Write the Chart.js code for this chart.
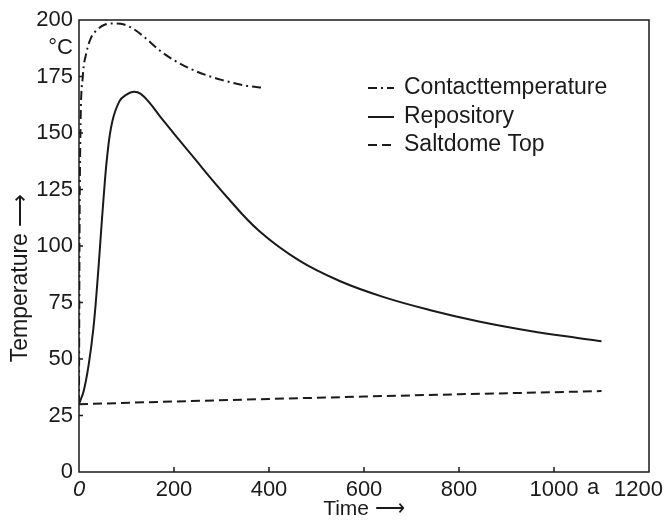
<!DOCTYPE html>
<html>
<head>
<meta charset="utf-8">
<title>Temperature vs Time</title>
<script src="https://cdn.jsdelivr.net/npm/chart.js@4/dist/chart.umd.min.js"></script>
<style>
    html, body { margin: 0; padding: 0; background: #fff; }
    #wrap { width: 664px; height: 524px; }
</style>
</head>
<body>
<div id="wrap"><canvas id="chart" width="664" height="524"></canvas></div>
<script>
// time in years (a), temperature in °C
const contactTime = [0, 1, 3, 8, 15, 25, 40, 55, 75, 95, 115, 140, 170, 210, 250, 300, 350, 390];
const contactTemp = [30, 100, 150, 175, 185, 192, 196, 198, 198.5, 198, 196, 192, 186.5, 181, 177, 173.5, 171, 170];

const repoTime = [0, 10, 20, 30, 38, 45, 52, 60, 70, 85, 100, 115, 130, 150, 170, 240, 311, 380, 464, 550, 640, 740, 842, 950, 1050, 1100];
const repoTemp = [30, 36, 47, 63, 82, 102, 122, 141, 155, 164, 167, 168.3, 167.3, 163, 157.5, 139.5, 121.8, 106.5, 93.5, 84.4, 77.5, 71.6, 66.6, 62.4, 59.3, 57.9];

const saltTime = [0, 200, 400, 600, 800, 1000, 1100];
const saltTemp = [30, 31.2, 32.3, 33.4, 34.4, 35.3, 35.8];

const seriesNames = ['Contacttemperature', 'Repository', 'Saltdome Top'];
const xTicks = [0, 200, 400, 600, 800, 1000, 1200];
const yTicks = [0, 25, 50, 75, 100, 125, 150, 175, 200];

const ink = '#1a1a1a';
const FONT = "'Liberation Sans', Arial, Helvetica, sans-serif";

const toPoints = (xs, ys) => xs.map((x, i) => ({ x: x, y: ys[i] }));

// frame, inward ticks, unit labels and the legend inside the plot
const extras = {
    id: 'extras',
    afterDraw(chart) {
        const { ctx, chartArea: a, scales: { x, y } } = chart;
        ctx.save();
        ctx.strokeStyle = ink;
        ctx.lineWidth = 1.5;
        ctx.setLineDash([]);
        ctx.strokeRect(a.left, a.top, a.right - a.left, a.bottom - a.top);

        ctx.beginPath();
        xTicks.slice(1, -1).forEach(v => {
            const px = x.getPixelForValue(v);
            ctx.moveTo(px, a.bottom);
            ctx.lineTo(px, a.bottom - 5);
        });
        yTicks.slice(1, -1).forEach(v => {
            const py = y.getPixelForValue(v);
            ctx.moveTo(a.left, py);
            ctx.lineTo(a.left + 4, py);
        });
        ctx.stroke();

        ctx.fillStyle = ink;
        ctx.font = '22px ' + FONT;
        ctx.textBaseline = 'middle';
        ctx.textAlign = 'right';
        ctx.fillText('°C', a.left - 6, y.getPixelForValue(200) + 28);
        // last x label and the unit "a"
        ctx.fillText('1200', 663, 490);
        ctx.textAlign = 'center';
        ctx.fillText('a', 593, 488);

        // legend
        ctx.font = '23px ' + FONT;
        const rows = [a.top + 68, a.top + 97, a.top + 125];
        chart.data.datasets.forEach((ds, i) => {
            ctx.beginPath();
            ctx.lineWidth = 2;
            ctx.setLineDash(ds.borderDash || []);
            ctx.moveTo(368, rows[i]);
            ctx.lineTo(394, rows[i]);
            ctx.stroke();
            ctx.setLineDash([]);
            ctx.textAlign = 'left';
            ctx.fillText(ds.label, 404, rows[i]);
        });
        ctx.restore();
    }
};

new Chart(document.getElementById('chart'), {
    type: 'line',
    data: {
        datasets: [
            {
                label: seriesNames[0],
                data: toPoints(contactTime, contactTemp),
                borderColor: ink,
                borderWidth: 2,
                borderDash: [9, 4, 2, 4],
                cubicInterpolationMode: 'monotone',
                pointRadius: 0,
                fill: false
            },
            {
                label: seriesNames[1],
                data: toPoints(repoTime, repoTemp),
                borderColor: ink,
                borderWidth: 2,
                tension: 0.4,
                pointRadius: 0,
                fill: false
            },
            {
                label: seriesNames[2],
                data: toPoints(saltTime, saltTemp),
                borderColor: ink,
                borderWidth: 2,
                borderDash: [9, 5],
                pointRadius: 0,
                fill: false
            }
        ]
    },
    options: {
        responsive: false,
        animation: false,
        layout: { padding: { top: 20, right: 15, left: 0, bottom: 0 } },
        plugins: {
            legend: { display: false },
            tooltip: { enabled: false }
        },
        scales: {
            x: {
                type: 'linear',
                min: 0,
                max: 1200,
                grid: { display: false, drawTicks: false },
                border: { display: false },
                afterBuildTicks: s => { s.ticks = xTicks.map(v => ({ value: v })); },
                afterFit: s => { s.height = 52; },
                ticks: {
                    color: ink,
                    padding: 5,
                    maxRotation: 0,
                    autoSkip: false,
                    font: ctx => ({ family: FONT, size: 22, style: ctx.tick && ctx.tick.value === 0 ? 'italic' : 'normal' }),
                    callback: v => (v === 1200 ? '' : String(v))
                },
                title: {
                    display: true,
                    text: 'Time ⟶',
                    color: ink,
                    font: { family: FONT, size: 21 },
                    padding: { top: 0, bottom: 2 }
                }
            },
            y: {
                min: 0,
                max: 200,
                grid: { display: false, drawTicks: false },
                border: { display: false },
                afterBuildTicks: s => { s.ticks = yTicks.map(v => ({ value: v })); },
                afterFit: s => { s.width = 79; },
                ticks: {
                    color: ink,
                    padding: 6,
                    autoSkip: false,
                    font: { family: FONT, size: 22 }
                },
                title: {
                    display: true,
                    text: 'Temperature ⟶' + '\u00a0'.repeat(10),
                    color: ink,
                    font: { family: FONT, size: 23 },
                    padding: { top: 7, bottom: 0 }
                }
            }
        }
    },
    plugins: [extras]
});
</script>
</body>
</html>
